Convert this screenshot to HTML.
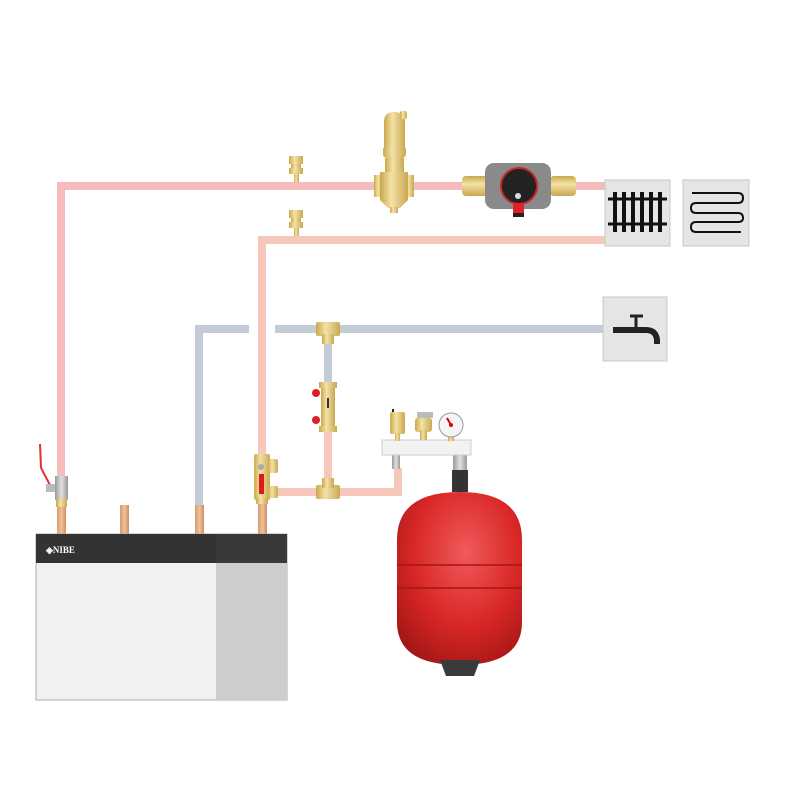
<!DOCTYPE html>
<html><head><meta charset="utf-8"><style>
html,body{margin:0;padding:0;background:#fff;}
svg{display:block;}
</style></head><body>
<svg width="800" height="800" viewBox="0 0 800 800" xmlns="http://www.w3.org/2000/svg">
<defs>
<linearGradient id="brass" x1="0" x2="1" y1="0" y2="0">
<stop offset="0" stop-color="#c9a84a"/><stop offset="0.4" stop-color="#f3e2a6"/><stop offset="1" stop-color="#caa850"/>
</linearGradient>
<linearGradient id="brassV" x1="0" x2="0" y1="0" y2="1">
<stop offset="0" stop-color="#c9a84a"/><stop offset="0.4" stop-color="#f3e2a6"/><stop offset="1" stop-color="#caa850"/>
</linearGradient>
<radialGradient id="tank" cx="0.55" cy="0.35" r="0.7">
<stop offset="0" stop-color="#f05a5a"/><stop offset="0.6" stop-color="#d92727"/><stop offset="1" stop-color="#a81717"/>
</radialGradient>
<linearGradient id="copper" x1="0" x2="1"><stop offset="0" stop-color="#d89a6a"/><stop offset="0.5" stop-color="#f0c09a"/><stop offset="1" stop-color="#d0905e"/></linearGradient>
<linearGradient id="grey" x1="0" x2="1"><stop offset="0" stop-color="#9a9a9a"/><stop offset="0.5" stop-color="#e0e0e0"/><stop offset="1" stop-color="#999"/></linearGradient>
</defs>

<g fill="none" stroke-linejoin="miter">
<path d="M61 494 V186 H606" stroke="#f6bcbc" stroke-width="8"/>
<path d="M262 456 V240 H606" stroke="#f6c8bc" stroke-width="8"/>
<path d="M199 506 V329 H249" stroke="#c3ccd6" stroke-width="8"/>
<path d="M275 329 H606" stroke="#c3ccd6" stroke-width="8"/>
<path d="M328 329 V385" stroke="#c3ccd6" stroke-width="8"/>
<path d="M328 385 V492" stroke="#f6c8bc" stroke-width="8"/>
<path d="M272 492 H398 V468" stroke="#f6c8bc" stroke-width="8"/>
</g>

<rect x="57" y="500" width="9" height="36" fill="url(#copper)"/>
<rect x="120" y="505" width="9" height="31" fill="url(#copper)"/>
<rect x="195" y="505" width="9" height="31" fill="url(#copper)"/>
<rect x="258" y="500" width="9" height="36" fill="url(#copper)"/>

<rect x="36" y="534" width="251" height="166" fill="#f1f1f1" stroke="#aaa" stroke-width="1"/>
<rect x="216" y="563" width="71" height="137" fill="#cdcdcd"/>
<rect x="36" y="534" width="251" height="29" fill="#333"/>
<rect x="216" y="534" width="71" height="29" fill="#393939"/>
<text x="46" y="553" font-family="Liberation Serif, serif" font-weight="bold" font-size="9" fill="#fff">◈NIBE</text>

<line x1="40" y1="444" x2="41" y2="468" stroke="#e23030" stroke-width="2"/>
<line x1="41" y1="468" x2="50" y2="485" stroke="#e23030" stroke-width="2"/>
<rect x="46" y="484" width="10" height="8" fill="#bbb"/>
<rect x="55" y="476" width="13" height="24" fill="url(#grey)"/>
<rect x="56" y="499" width="11" height="8" fill="url(#brass)"/>

<g fill="url(#brass)">
<rect x="289" y="156" width="14" height="8"/><rect x="291" y="164" width="10" height="10"/><rect x="289" y="168" width="14" height="6"/><rect x="294" y="174" width="5" height="8"/>
<rect x="289" y="210" width="14" height="8"/><rect x="291" y="218" width="10" height="10"/><rect x="289" y="222" width="14" height="6"/><rect x="294" y="228" width="5" height="8"/>
</g>

<g fill="url(#brass)">
<path d="M384 150 V122 Q384 112 394 112 Q404 112 405 120 V150 Z"/>
<rect x="400" y="111" width="7" height="8" rx="2"/>
<rect x="383" y="146" width="23" height="12" rx="4"/>
<rect x="385" y="158" width="19" height="18"/>
<rect x="374" y="175" width="10" height="22"/><rect x="404" y="175" width="10" height="22"/>
<path d="M380 172 H408 V200 L400 208 H388 L380 200 Z"/>
<rect x="390" y="207" width="8" height="6"/>
</g>

<g>
<rect x="462" y="176" width="26" height="20" rx="4" fill="url(#brassV)"/>
<rect x="550" y="176" width="26" height="20" rx="4" fill="url(#brassV)"/>
<rect x="485" y="163" width="66" height="46" rx="9" fill="#8a8a8a"/>
<circle cx="519" cy="186" r="18" fill="#222" stroke="#c8242a" stroke-width="2"/>
<circle cx="518" cy="196" r="3" fill="#ddd"/>
<rect x="513" y="203" width="11" height="14" fill="#e0202a"/>
<rect x="513" y="213" width="11" height="4" fill="#222"/>
</g>

<rect x="605" y="180" width="65" height="66" fill="#e5e5e5" stroke="#c8c8c8"/>
<g stroke="#111" stroke-width="3">
<line x1="608" y1="199" x2="667" y2="199"/><line x1="608" y1="224" x2="667" y2="224"/>
</g>
<g fill="#111">
<rect x="613" y="192" width="4" height="40"/><rect x="622" y="192" width="4" height="40"/><rect x="631" y="192" width="4" height="40"/><rect x="640" y="192" width="4" height="40"/><rect x="649" y="192" width="4" height="40"/><rect x="658" y="192" width="4" height="40"/>
</g>
<rect x="683" y="180" width="66" height="66" fill="#e5e5e5" stroke="#c8c8c8"/>
<path d="M692 193 H738 Q743 193 743 198 Q743 203 738 203 H696 Q691 203 691 208 Q691 213 696 213 H738 Q743 213 743 218 Q743 222 738 222 H696 Q691 222 691 227 Q691 232 696 232 H741" fill="none" stroke="#111" stroke-width="2"/>
<rect x="603" y="297" width="64" height="64" fill="#e5e5e5" stroke="#c8c8c8"/>
<path d="M613 330 H646 Q656 330 657 340 V344" fill="none" stroke="#222" stroke-width="6"/>
<line x1="636" y1="317" x2="636" y2="330" stroke="#222" stroke-width="3"/>
<line x1="630" y1="316" x2="643" y2="316" stroke="#222" stroke-width="3"/>

<g fill="url(#brass)">
<rect x="316" y="322" width="24" height="14" rx="2"/><rect x="322" y="334" width="12" height="10"/>
<rect x="316" y="485" width="24" height="14" rx="2"/><rect x="322" y="478" width="12" height="10"/>
<rect x="321" y="382" width="14" height="50" rx="2"/>
<rect x="319" y="382" width="18" height="6"/><rect x="319" y="426" width="18" height="6"/>
</g>
<circle cx="316" cy="393" r="4" fill="#e02020"/><circle cx="316" cy="420" r="4" fill="#e02020"/>
<rect x="327" y="398" width="2" height="10" fill="#333"/>
<g fill="url(#brass)">
<rect x="254" y="454" width="16" height="46" rx="2"/>
<rect x="268" y="459" width="10" height="14" rx="2"/>
<rect x="268" y="486" width="10" height="12" rx="2"/>
<rect x="256" y="498" width="12" height="6"/>
</g>
<circle cx="261" cy="467" r="3" fill="#aaa"/>
<rect x="259" y="474" width="5" height="20" fill="#e01818"/>

<rect x="392" y="455" width="8" height="14" fill="url(#grey)"/>
<rect x="453" y="455" width="14" height="18" fill="url(#grey)"/>
<rect x="382" y="440" width="89" height="15" fill="#f2f2f2" stroke="#ccc"/>
<g fill="url(#brass)">
<rect x="390" y="412" width="15" height="22" rx="2"/><rect x="395" y="433" width="5" height="8"/>
<rect x="417" y="412" width="16" height="6" fill="#bbb"/>
<rect x="415" y="418" width="17" height="14" rx="3"/><rect x="420" y="430" width="7" height="10"/>
<rect x="448" y="436" width="6" height="5"/>
</g>
<rect x="392" y="409" width="2" height="3" fill="#222"/>
<circle cx="451" cy="425" r="12" fill="#f5f5f5" stroke="#999"/>
<line x1="451" y1="425" x2="447" y2="418" stroke="#d00" stroke-width="2"/>
<circle cx="451" cy="425" r="2" fill="#d00"/>

<rect x="452" y="470" width="16" height="22" fill="#333"/>
<path d="M397 540 Q397 492 460 492 Q522 492 522 540 L522 622 Q522 665 460 665 Q397 665 397 622 Z" fill="url(#tank)"/>
<g stroke="#a51515" stroke-width="1.5">
<line x1="397" y1="565" x2="522" y2="565"/><line x1="397" y1="588" x2="522" y2="588"/>
</g>
<path d="M440 660 H480 L474 676 H446 Z" fill="#3a3a3a"/>
</svg>
</body></html>
